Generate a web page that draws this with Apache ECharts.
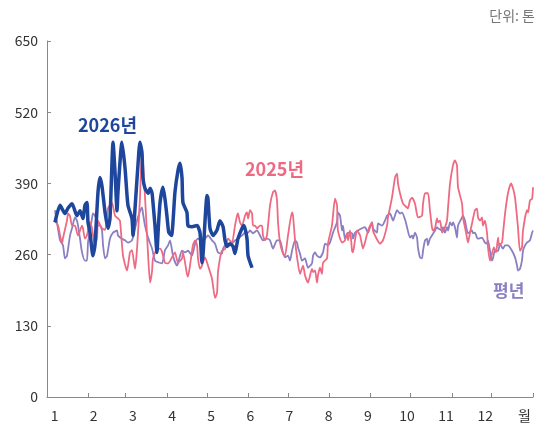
<!DOCTYPE html>
<html><head><meta charset="utf-8">
<script src="https://cdn.jsdelivr.net/npm/echarts@6/dist/echarts.min.js"></script>
<style>html,body{margin:0;padding:0;background:#fff}#c{width:549px;height:429px}</style>
</head><body><div id="c"></div>
<script>
// Y axis ticks
const yTicks = [0, 130, 260, 390, 520, 650];
// X axis labels (months) and month-start days (tick positions in day-of-year)
const monthLabels = ['1','2','3','4','5','6','7','8','9','10','11','12','월'];
const monthStartDays = [0,31,59,90,120,151,181,212,243,273,304,334,365];

// 2026년 (day of year, value in tons)
const days2026 = [6.0,9.8,13.5,15.8,18.8,22.5,24.8,27.0,28.5,30.0,30.8,32.3,34.5,36.0,38.3,39.8,41.3,43.6,45.8,47.3,49.6,51.1,52.6,53.3,56.3,58.6,60.8,63.8,64.6,66.1,68.3,69.8,71.3,72.1,73.6,75.9,77.4,78.9,79.6,81.1,82.6,83.4,84.9,87.1,88.6,90.1,91.5,93.5,96.1,98.4,99.9,101.4,102.1,105.1,105.9,108.9,112.7,114.9,116.4,117.2,120.2,120.9,122.4,124.7,127.7,129.9,132.2,133.7,135.2,137.4,139.7,141.2,142.7,143.4,146.5,148.0,150.2,151.0,154.0];
const vals2026 = [319,350,335,345,353,331,340,326,350,355,319,300,258,277,374,401,385,337,308,326,465,410,340,374,465,418,350,326,295,344,423,465,447,399,381,372,381,372,355,313,264,300,355,383,362,330,300,295,374,414,427,400,355,337,313,311,313,300,245,260,368,362,308,295,305,322,311,286,275,280,275,262,280,289,308,313,289,258,236];

// 2025년
const days2025 = [6.0,8.3,9.8,11.3,12.0,15.0,15.8,17.3,18.8,21.0,22.5,23.3,26.3,27.0,28.5,30.0,32.3,33.8,36.0,37.6,38.3,41.3,43.6,45.8,48.8,51.1,53.3,54.8,57.1,60.1,62.3,63.8,66.1,67.6,69.8,71.3,72.8,74.4,75.9,77.4,78.9,79.6,82.6,84.9,86.4,88.6,90.9,93.9,96.1,98.4,101.4,102.1,105.1,105.9,107.4,109.6,111.2,112.7,113.4,114.9,116.4,118.7,120.9,123.9,126.2,127.7,128.4,129.9,131.4,133.7,135.9,138.9,141.2,142.7,143.4,144.9,146.5,148.7,150.2,151.0,152.5,154.0,154.7,156.2,157.7,160.0,161.5,162.2,163.7,165.2,167.5,169.7,171.2,172.7,173.5,175.0,177.2,178.7,181.0,184.0,184.8,186.3,187.8,190.0,192.3,193.8,196.0,199.0,199.8,201.3,202.8,203.5,205.0,206.5,207.3,210.3,211.0,214.0,216.3,217.8,218.5,221.6,223.8,225.3,226.1,227.6,229.1,229.8,231.3,232.8,235.1,237.3,238.8,241.1,244.1,244.8,246.3,250.1,252.3,255.4,256.1,259.1,261.4,262.9,263.6,265.1,267.4,270.4,271.1,272.6,274.1,276.4,278.6,281.6,282.4,283.9,286.1,287.6,289.1,289.9,291.4,292.9,293.6,295.2,296.7,298.9,300.4,301.2,302.7,304.9,306.4,307.9,308.7,311.7,312.4,313.9,315.4,316.2,317.7,319.2,321.4,322.9,323.7,325.2,326.7,327.4,328.9,330.5,331.2,332.7,334.2,335.7,337.2,338.8,339.5,341.7,342.5,344.0,346.2,348.5,350.0,351.5,353.7,355.2,356.7,357.5,360.5,361.3,362.7,364.3,365.0];
const vals2025 = [322,313,295,280,290,322,335,330,313,313,300,295,313,308,289,295,319,308,277,290,322,308,305,344,355,331,326,322,258,231,264,268,234,270,362,454,400,330,260,209,230,253,270,271,265,245,244,255,264,245,253,264,225,220,240,277,286,277,253,234,240,255,240,216,181,190,227,253,267,270,289,282,313,331,335,319,313,331,337,326,341,335,313,313,308,313,313,295,286,295,350,374,377,360,319,282,262,258,295,337,330,286,255,225,240,222,209,234,228,231,209,222,236,225,245,253,280,313,362,350,304,282,286,299,286,304,267,264,286,304,295,271,282,304,319,304,295,280,286,313,328,364,401,408,390,372,353,346,344,359,364,353,328,331,353,372,372,341,310,304,308,326,319,322,300,310,322,346,390,423,432,423,383,353,328,310,291,282,300,317,341,344,328,322,328,313,322,299,273,249,262,273,264,291,277,282,299,335,372,390,381,364,310,267,273,304,341,337,359,362,383];

// 평년
const daysAvg = [6.0,7.5,9.8,12.0,13.5,15.0,17.3,18.8,21.0,22.5,23.3,24.8,26.3,28.5,30.0,30.8,32.3,33.8,34.5,36.0,37.6,38.3,39.8,41.3,42.1,43.6,45.1,47.3,49.6,52.6,53.3,56.3,58.6,60.8,63.8,66.1,68.3,71.3,72.1,73.6,75.9,78.9,81.1,83.4,86.4,88.6,90.9,92.4,94.6,97.6,98.4,101.4,103.6,105.9,108.9,111.2,113.4,116.4,118.7,120.9,123.9,126.2,128.4,131.4,132.2,135.2,137.4,139.7,141.2,143.4,146.5,148.7,151.0,152.5,154.7,157.7,160.0,162.2,165.2,167.5,169.7,172.7,175.0,177.2,178.7,181.0,182.5,184.0,186.3,187.8,188.5,190.0,191.5,193.8,196.0,199.0,199.8,201.3,202.8,205.0,207.3,208.8,211.0,212.5,214.8,217.8,218.5,220.1,221.6,222.3,223.8,226.1,229.1,229.8,231.3,233.6,236.6,238.8,241.1,242.6,244.1,244.8,247.8,248.6,251.6,253.8,255.4,257.6,259.9,262.9,265.1,266.6,268.9,270.4,272.6,274.1,274.9,276.4,277.9,278.6,280.1,281.6,282.4,283.9,285.4,286.1,287.6,289.1,291.4,292.9,293.6,296.7,297.4,298.9,300.4,301.2,302.7,304.2,304.9,306.4,307.9,308.7,311.7,312.4,313.9,316.2,319.2,319.9,321.4,322.9,323.7,326.7,328.9,330.5,331.2,332.7,334.2,334.9,336.5,338.8,340.2,341.7,342.5,344.0,346.2,349.2,351.5,353.0,353.7,355.2,356.7,357.5,359.0,360.5,362.7,364.3,365.0];
const valsAvg = [341,319,286,277,253,258,295,308,328,322,313,289,264,249,249,282,304,326,335,331,322,313,313,304,277,253,258,289,300,304,295,289,286,282,286,308,328,346,335,313,291,271,249,246,244,268,277,286,258,240,244,267,264,267,258,280,289,286,289,295,286,280,264,262,271,280,277,282,286,289,295,300,300,304,299,304,295,286,289,286,271,286,286,264,255,258,249,267,286,282,273,262,249,253,236,244,258,264,258,255,264,280,277,282,300,319,337,331,304,313,289,300,299,289,300,304,308,310,300,310,319,308,300,317,313,322,331,335,322,341,335,337,324,310,291,295,289,300,291,273,255,253,267,286,289,277,289,295,304,310,308,304,310,300,310,304,319,313,319,310,291,313,328,331,322,299,304,299,300,291,289,291,282,280,286,267,249,253,267,267,280,273,271,277,277,267,255,240,231,234,249,267,277,282,286,300,304];

const zip = (d, v) => d.map((x, i) => [x, v[i]]);
const FONT = '"Noto Sans CJK KR", "Noto Sans", sans-serif';
const C26 = '#1d469c', C25 = '#ee6a82', CAVG = '#8a7fc3';

const chart = echarts.init(document.getElementById('c'), null, {renderer: 'canvas'});
chart.setOption({
  animation: false,
  backgroundColor: '#fff',
  textStyle: {fontFamily: FONT},
  grid: [
    {left: 47, right: 16, top: 41, bottom: 32},
    {left: 35, right: 5, top: 41, bottom: 32}
  ],
  xAxis: [
    {type: 'value', gridIndex: 0, min: 0, max: 365,
     axisLine: {show: true, lineStyle: {color: '#888', width: 1}},
     axisTick: {show: true, inside: true, length: 4, customValues: monthStartDays, lineStyle: {color: '#888'}},
     axisLabel: {show: false}, splitLine: {show: false}},
    {type: 'category', gridIndex: 1, data: monthLabels, boundaryGap: true,
     axisLine: {show: false}, axisTick: {show: false},
     axisLabel: {show: true, margin: 12, fontSize: 14, color: '#333', fontFamily: FONT}}
  ],
  yAxis: [
    {type: 'value', gridIndex: 0, min: yTicks[0], max: yTicks[yTicks.length-1], interval: 130,
     axisLine: {show: true, lineStyle: {color: '#888', width: 1}},
     axisTick: {show: true, inside: true, length: 4, lineStyle: {color: '#888'}},
     axisLabel: {show: true, margin: 9, fontSize: 14, color: '#333', fontFamily: FONT},
     splitLine: {show: false}},
    {type: 'value', gridIndex: 1, show: false, min: 0, max: 650}
  ],
  series: [
    {name: '평년', type: 'line', data: zip(daysAvg, valsAvg), showSymbol: false, smooth: 0.2,
     lineStyle: {color: CAVG, width: 1.8}, itemStyle: {color: CAVG}, z: 2},
    {name: '2025년', type: 'line', data: zip(days2025, vals2025), showSymbol: false, smooth: 0.2,
     lineStyle: {color: C25, width: 1.8}, itemStyle: {color: C25}, z: 3},
    {name: '2026년', type: 'line', data: zip(days2026, vals2026), showSymbol: false, smooth: 0.2,
     lineStyle: {color: C26, width: 3.5}, itemStyle: {color: C26}, z: 4}
  ],
  graphic: [
    {type: 'text', right: 14, top: 9, style: {text: '단위: 톤', font: '14px ' + FONT, fill: '#777'}},
    {type: 'text', left: 78, top: 116, style: {text: '2026년', font: 'bold 18px ' + FONT, fill: C26}},
    {type: 'text', left: 245, top: 160, style: {text: '2025년', font: 'bold 18px ' + FONT, fill: C25}},
    {type: 'text', left: 493, top: 282, style: {text: '평년', font: 'bold 17px ' + FONT, fill: CAVG}}
  ]
});
</script></body></html>
